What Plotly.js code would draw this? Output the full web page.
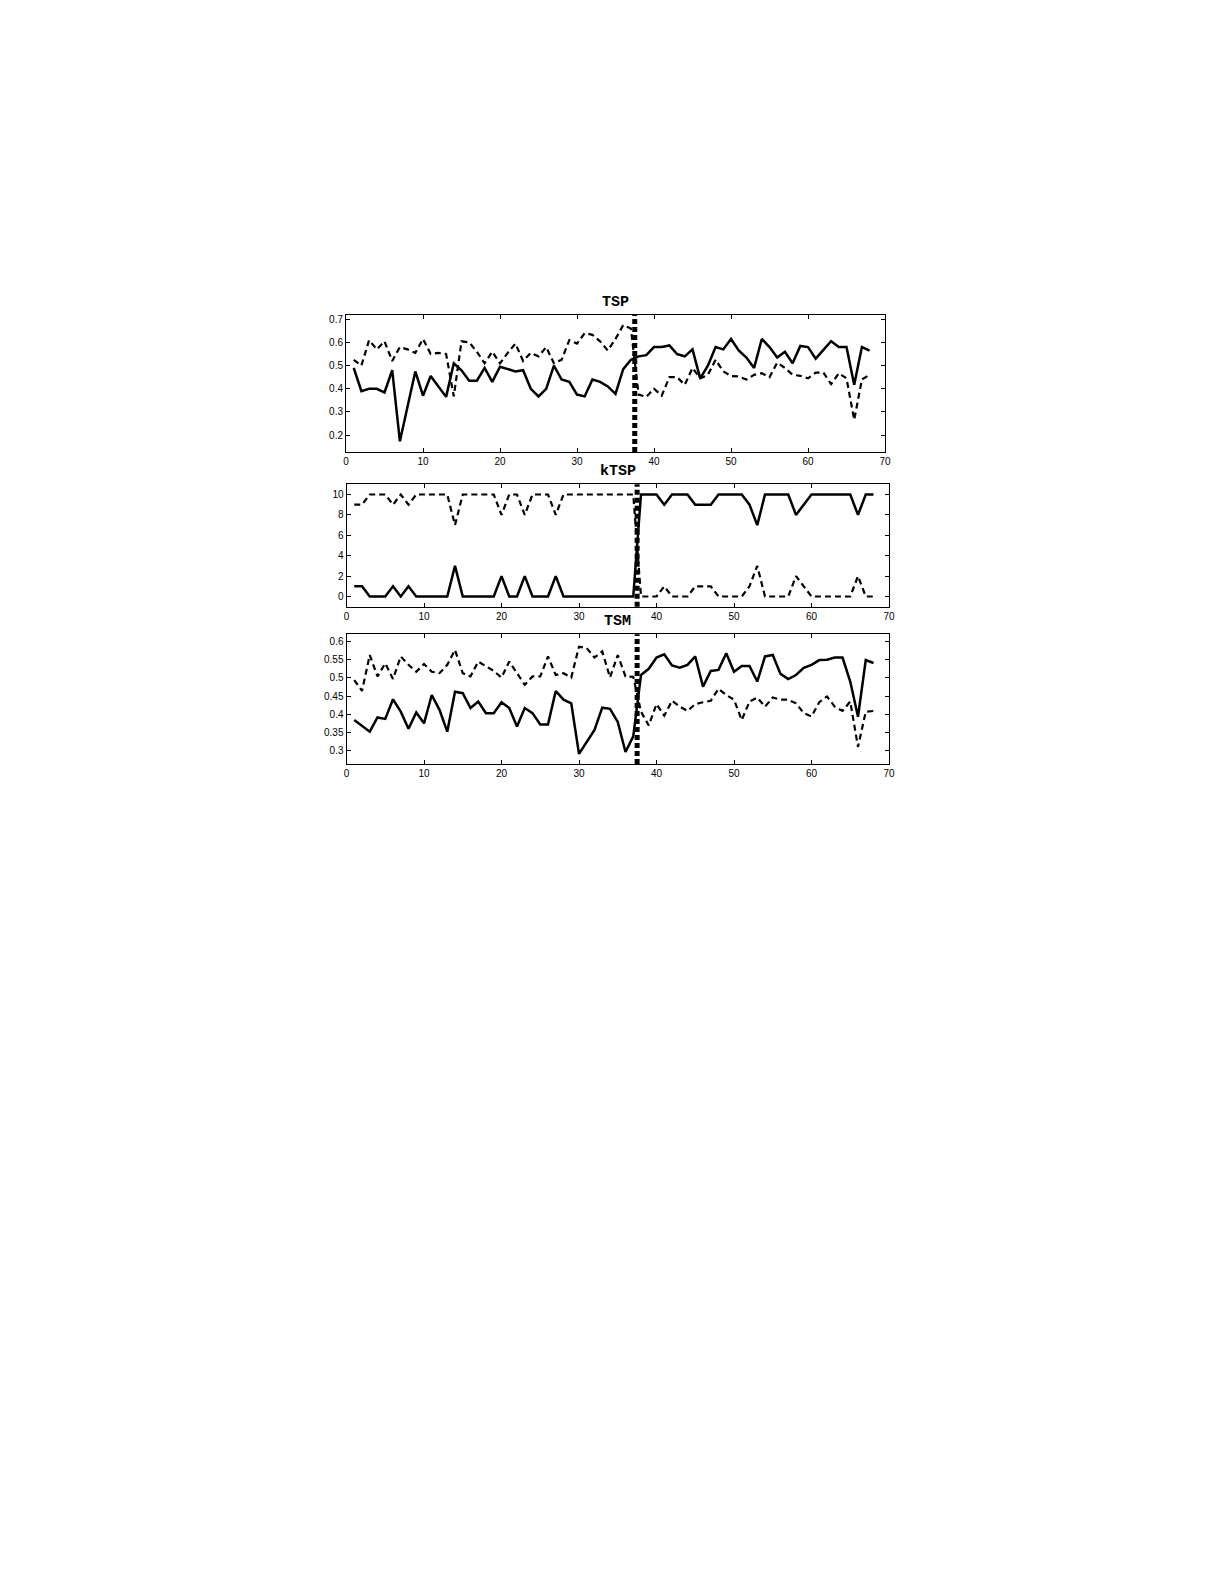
<!DOCTYPE html>
<html>
<head>
<meta charset="utf-8">
<script src="https://cdn.plot.ly/plotly-3.0.1.min.js"></script>
<style>html,body{margin:0;padding:0;background:#fff;}#chart{width:1225px;height:1585px;}</style>
</head>
<body>
<div id="chart"></div>
<script>
// ---- data ----
const xIdx = Array.from({length: 68}, (_, i) => i + 1);
const splitX = 37.5;

const tspSolid = [0.49,0.39,0.40,0.40,0.384,0.48,0.173,0.32,0.475,0.37,
  0.455,0.41,0.365,0.51,0.48,0.435,0.435,0.49,0.43,0.495,
  0.485,0.475,0.48,0.40,0.367,0.40,0.50,0.44,0.43,0.375,
  0.367,0.44,0.43,0.41,0.378,0.485,0.525,0.54,0.545,0.58,
  0.58,0.587,0.55,0.54,0.57,0.445,0.50,0.58,0.57,0.615,
  0.565,0.535,0.49,0.615,0.58,0.535,0.56,0.51,0.585,0.58,
  0.53,0.57,0.605,0.58,0.58,0.417,0.58,0.565];
const tspDashed = [0.525,0.50,0.61,0.57,0.605,0.52,0.58,0.57,0.555,0.615,
  0.55,0.555,0.55,0.367,0.605,0.60,0.56,0.51,0.56,0.51,
  0.555,0.595,0.52,0.555,0.54,0.58,0.51,0.525,0.61,0.595,
  0.64,0.633,0.605,0.565,0.615,0.675,0.66,0.375,0.365,0.40,
  0.37,0.45,0.45,0.417,0.49,0.445,0.46,0.525,0.475,0.455,
  0.453,0.44,0.46,0.467,0.45,0.513,0.49,0.46,0.456,0.445,
  0.47,0.47,0.42,0.467,0.445,0.266,0.44,0.46];

const ktspSolid = [1,1,0,0,0,1,0,1,0,0,
  0,0,0,3,0,0,0,0,0,2,
  0,0,2,0,0,0,2,0,0,0,
  0,0,0,0,0,0,0,10,10,10,
  9,10,10,10,9,9,9,10,10,10,
  10,9,7,10,10,10,10,8,9,10,
  10,10,10,10,10,8,10,10];
const ktspDashed = [9,9,10,10,10,9,10,9,10,10,
  10,10,10,7,10,10,10,10,10,8,
  10,10,8,10,10,10,8,10,10,10,
  10,10,10,10,10,10,10,0,0,0,
  1,0,0,0,1,1,1,0,0,0,
  0,1,3,0,0,0,0,2,1,0,
  0,0,0,0,0,2,0,0];

const tsmSolid = [0.384,0.369,0.352,0.391,0.387,0.441,0.407,0.36,0.405,0.375,
  0.453,0.412,0.352,0.462,0.458,0.417,0.435,0.403,0.403,0.433,
  0.417,0.366,0.417,0.403,0.372,0.372,0.464,0.44,0.43,0.291,
  0.325,0.357,0.418,0.415,0.379,0.296,0.339,0.508,0.525,0.556,
  0.565,0.534,0.528,0.536,0.559,0.476,0.519,0.522,0.568,0.517,
  0.533,0.533,0.49,0.559,0.563,0.511,0.497,0.508,0.528,0.536,
  0.549,0.55,0.556,0.556,0.49,0.393,0.549,0.541];
const tsmDashed = [0.494,0.464,0.563,0.504,0.54,0.497,0.559,0.536,0.517,0.538,
  0.517,0.513,0.536,0.577,0.513,0.504,0.545,0.531,0.519,0.501,
  0.545,0.513,0.481,0.504,0.504,0.559,0.508,0.513,0.501,0.586,
  0.582,0.556,0.573,0.501,0.563,0.504,0.503,0.407,0.369,0.428,
  0.396,0.437,0.421,0.409,0.428,0.433,0.437,0.47,0.453,0.44,
  0.384,0.435,0.446,0.421,0.446,0.44,0.44,0.43,0.403,0.394,
  0.433,0.449,0.421,0.409,0.435,0.31,0.407,0.409];

const titles = ['TSP', 'kTSP', 'TSM'];
const xTicks = [0,10,20,30,40,50,60,70];
const tspTicks = [0.2,0.3,0.4,0.5,0.6,0.7];
const ktspTicks = [0,2,4,6,8,10];
const tsmTicks = [0.3,0.35,0.4,0.45,0.5,0.55,0.6];

// ---- layout geometry (pixels) ----
const W = 1225, H = 1585;
const boxes = [
  {l: 346, r: 885, t: 315, b: 452, yr: [0.127, 0.7185], ticks: tspTicks},
  {l: 346.5, r: 889, t: 484.3, b: 606.7, yr: [-1, 11], ticks: ktspTicks},
  {l: 346.5, r: 889, t: 634.3, b: 764, yr: [0.263, 0.62], ticks: tsmTicks}
];
const series = [[tspSolid, tspDashed], [ktspSolid, ktspDashed], [tsmSolid, tsmDashed]];

const data = [];
const layout = {
  width: W, height: H,
  margin: {l: 0, r: 0, t: 0, b: 0},
  paper_bgcolor: '#fff', plot_bgcolor: '#fff',
  showlegend: false,
  annotations: [], shapes: []
};
const tickFont = {family: 'Liberation Sans, Arial, sans-serif', size: 10, color: '#000'};

boxes.forEach((bx, i) => {
  const n = i === 0 ? '' : String(i + 1);
  const xa = 'x' + n, ya = 'y' + n;
  data.push({x: xIdx, y: series[i][1], xaxis: xa, yaxis: ya, type: 'scatter', mode: 'lines',
    line: {color: '#000', width: 2.2, dash: '6px,4px'}, hoverinfo: 'none'});
  data.push({x: xIdx, y: series[i][0], xaxis: xa, yaxis: ya, type: 'scatter', mode: 'lines',
    line: {color: '#000', width: 2.5}, hoverinfo: 'none'});
  const common = {showgrid: false, zeroline: false, showline: true, linecolor: '#000', linewidth: 1,
    mirror: 'ticks', ticks: 'inside', ticklen: 4, tickcolor: '#000', tickwidth: 1, tickfont: tickFont};
  layout['xaxis' + n] = Object.assign({}, common, {
    domain: [bx.l / W, bx.r / W], range: [0, 70], tickvals: xTicks, ticktext: xTicks.map(String),
    anchor: ya, ticklabelstandoff: 0
  });
  layout['yaxis' + n] = Object.assign({}, common, {
    domain: [1 - bx.b / H, 1 - bx.t / H], range: bx.yr, tickvals: bx.ticks, ticktext: bx.ticks.map(String),
    anchor: xa, ticklabelstandoff: 0
  });
  layout.shapes.push({type: 'line', xref: xa, yref: ya + ' domain', x0: splitX, x1: splitX, y0: 0, y1: 1,
    line: {color: '#000', width: 5, dash: '5px,3px'}});
  layout.annotations.push({text: '<b>' + titles[i] + '</b>', xref: 'paper', yref: 'paper',
    x: (bx.l + bx.r) / 2 / W, y: 1 - bx.t / H, xanchor: 'center', yanchor: 'bottom', yshift: 2,
    showarrow: false, font: {family: 'Liberation Mono, Courier New, monospace', size: 15, color: '#000'}});
});

Plotly.newPlot('chart', data, layout, {staticPlot: true});
</script>
</body>
</html>
